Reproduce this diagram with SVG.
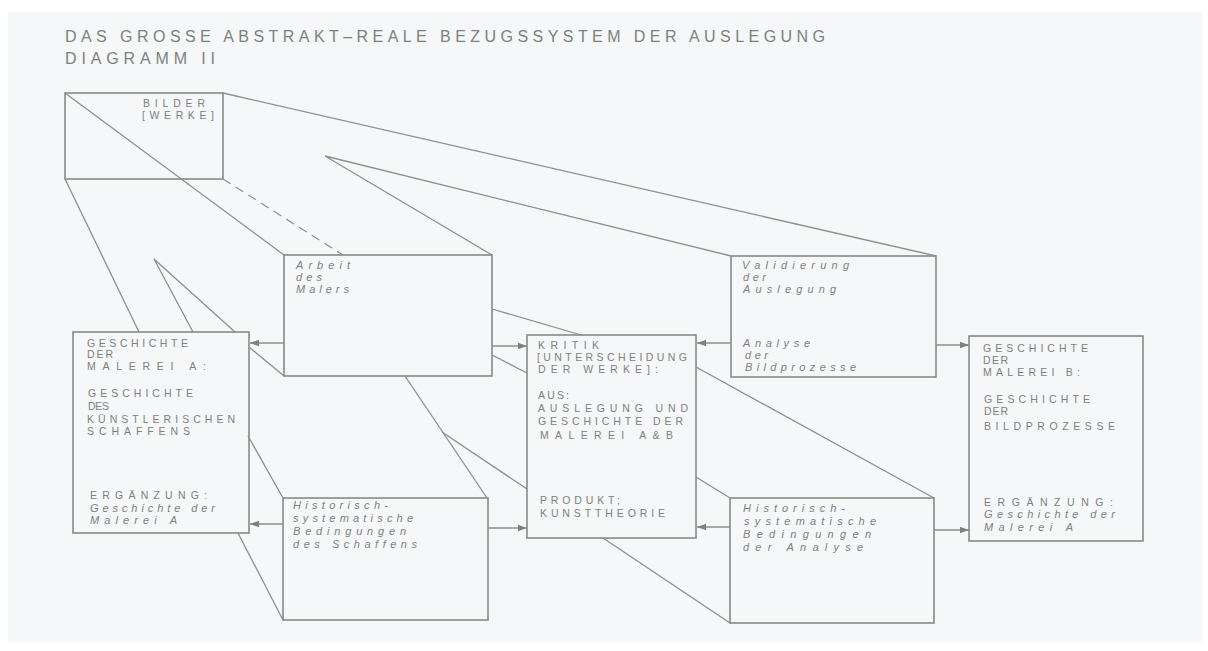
<svg xmlns="http://www.w3.org/2000/svg" width="1208" height="651" viewBox="0 0 1208 651">
<style>
.bx{fill:none;stroke:#858c85;stroke-width:1.6}
.ln{fill:none;stroke:#8a918a;stroke-width:1.3}
.ar{fill:none;stroke:#8a918a;stroke-width:1.3;marker-end:url(#ah)}
.dash{fill:none;stroke:#8a918a;stroke-width:1.2;stroke-dasharray:9 6}
.c{font-family:"Liberation Sans",Arial,sans-serif;font-size:10.5px;fill:#7b837b}
.l{font-family:"Liberation Sans",Arial,sans-serif;font-size:11px;font-style:italic;fill:#7b837b}
.t{font-family:"Liberation Sans",Arial,sans-serif;font-size:16px;fill:#7b837b}
</style>
<defs>
<marker id="ah" markerWidth="10" markerHeight="8" refX="9" refY="4" orient="auto" markerUnits="userSpaceOnUse">
<path d="M0,0.8 L9,4 L0,7.2 Z" fill="#7b837b"/>
</marker>
</defs>
<rect x="0" y="0" width="1208" height="651" fill="#ffffff"/>
<rect x="8" y="12" width="1194" height="630" fill="#f5f7f8"/>

<g id="title">
<text class="t" x="65" y="42" textLength="760" lengthAdjust="spacing">DAS GROSSE ABSTRAKT–REALE BEZUGSSYSTEM DER AUSLEGUNG</text>
<text class="t" x="65" y="64" textLength="150" lengthAdjust="spacing">DIAGRAMM II</text>
</g>

<g id="connectors">
<line class="ln" x1="65" y1="93" x2="284" y2="255"/>
<line class="ln" x1="223" y1="93" x2="936" y2="256"/>
<line class="dash" x1="223" y1="179" x2="343" y2="255"/>
<line class="ln" x1="65" y1="179" x2="139" y2="332"/>
<polyline class="ln" points="193,332 154,259 235,332"/>
<polyline class="ln" points="492,255 325,156 731,256"/>
<line class="ln" x1="492" y1="309" x2="581" y2="335"/>
<line class="ln" x1="492" y1="355" x2="527" y2="373"/>
<line class="ln" x1="249" y1="347" x2="284" y2="376"/>
<line class="ln" x1="248" y1="436" x2="283" y2="498"/>
<line class="ln" x1="238" y1="533" x2="283" y2="620"/>
<line class="ln" x1="405" y1="376" x2="487" y2="498"/>
<line class="ln" x1="442" y1="432" x2="527" y2="489"/>
<line class="ln" x1="696" y1="367" x2="934" y2="498"/>
<line class="ln" x1="696" y1="477" x2="730" y2="498"/>
<line class="ln" x1="603" y1="538" x2="730" y2="623"/>
<line class="ar" x1="284" y1="343" x2="250" y2="343"/>
<line class="ar" x1="492" y1="346" x2="527" y2="346"/>
<line class="ar" x1="731" y1="343" x2="697" y2="343"/>
<line class="ar" x1="936" y1="345" x2="969" y2="345"/>
<line class="ar" x1="283" y1="524" x2="250" y2="524"/>
<line class="ar" x1="488" y1="528" x2="527" y2="528"/>
<line class="ar" x1="730" y1="527" x2="697" y2="527"/>
<line class="ar" x1="934" y1="530" x2="969" y2="530"/>
</g>

<g id="bilder">
<rect class="bx" x="65" y="93" width="158" height="86"/>
<text class="c" x="143" y="107" textLength="62" lengthAdjust="spacing">BILDER</text>
<text class="c" x="142" y="119" textLength="72" lengthAdjust="spacing">[WERKE]</text>
</g>

<g id="arbeit">
<rect class="bx" x="284" y="255" width="208" height="121" fill="#f5f7f8"/>
<text class="l" x="296" y="269" textLength="54" lengthAdjust="spacing">Arbeit</text>
<text class="l" x="296" y="281" textLength="26" lengthAdjust="spacing">des</text>
<text class="l" x="296" y="293" textLength="53" lengthAdjust="spacing">Malers</text>
</g>

<g id="validierung">
<rect class="bx" x="731" y="256" width="205" height="121" fill="#f5f7f8"/>
<text class="l" x="742" y="269" textLength="107" lengthAdjust="spacing">Validierung</text>
<text class="l" x="743" y="281" textLength="23" lengthAdjust="spacing">der</text>
<text class="l" x="743" y="293" textLength="93" lengthAdjust="spacing">Auslegung</text>
<text class="l" x="743" y="347" textLength="67" lengthAdjust="spacing">Analyse</text>
<text class="l" x="745" y="359" textLength="23" lengthAdjust="spacing">der</text>
<text class="l" x="745" y="371" textLength="111" lengthAdjust="spacing">Bildprozesse</text>
</g>

<g id="geschichte-a">
<rect class="bx" x="73" y="332" width="176" height="201" fill="#f5f7f8"/>
<text class="c" x="87" y="347" textLength="101" lengthAdjust="spacing">GESCHICHTE</text>
<text class="c" x="87" y="358" textLength="26" lengthAdjust="spacing">DER</text>
<text class="c" x="87" y="370" textLength="119" lengthAdjust="spacing">MALEREI  A:</text>
<text class="c" x="88" y="397" textLength="105" lengthAdjust="spacing">GESCHICHTE</text>
<text class="c" x="88" y="410" textLength="21" lengthAdjust="spacing">DES</text>
<text class="c" x="87" y="423" textLength="148" lengthAdjust="spacing">KÜNSTLERISCHEN</text>
<text class="c" x="87" y="435" textLength="103" lengthAdjust="spacing">SCHAFFENS</text>
<text class="c" x="90" y="499" textLength="117" lengthAdjust="spacing">ERGÄNZUNG:</text>
<text class="l" x="90" y="512" textLength="125" lengthAdjust="spacing">Geschichte der</text>
<text class="l" x="90" y="524" textLength="87" lengthAdjust="spacing">Malerei A</text>
</g>

<g id="kritik">
<rect class="bx" x="527" y="335" width="169" height="203" fill="#f5f7f8"/>
<text class="c" x="538" y="349" textLength="61" lengthAdjust="spacing">KRITIK</text>
<text class="c" x="537" y="361" textLength="150" lengthAdjust="spacing">[UNTERSCHEIDUNG</text>
<text class="c" x="538" y="373" textLength="120" lengthAdjust="spacing">DER WERKE]:</text>
<text class="c" x="538" y="399" textLength="31" lengthAdjust="spacing">AUS:</text>
<text class="c" x="538" y="412" textLength="150" lengthAdjust="spacing">AUSLEGUNG UND</text>
<text class="c" x="538" y="425" textLength="145" lengthAdjust="spacing">GESCHICHTE DER</text>
<text class="c" x="540" y="439" textLength="133" lengthAdjust="spacing">MALEREI A&amp;B</text>
<text class="c" x="540" y="504" textLength="80" lengthAdjust="spacing">PRODUKT;</text>
<text class="c" x="540" y="517" textLength="125" lengthAdjust="spacing">KUNSTTHEORIE</text>
</g>

<g id="geschichte-b">
<rect class="bx" x="969" y="336" width="174" height="205" fill="#f5f7f8"/>
<text class="c" x="983" y="352" textLength="105" lengthAdjust="spacing">GESCHICHTE</text>
<text class="c" x="983" y="364" textLength="25" lengthAdjust="spacing">DER</text>
<text class="c" x="983" y="376" textLength="97" lengthAdjust="spacing">MALEREI   B:</text>
<text class="c" x="984" y="403" textLength="106" lengthAdjust="spacing">GESCHICHTE</text>
<text class="c" x="984" y="415" textLength="24" lengthAdjust="spacing">DER</text>
<text class="c" x="984" y="430" textLength="131" lengthAdjust="spacing">BILDPROZESSE</text>
<text class="c" x="984" y="506" textLength="129" lengthAdjust="spacing">ERGÄNZUNG:</text>
<text class="l" x="984" y="518" textLength="131" lengthAdjust="spacing">Geschichte der</text>
<text class="l" x="984" y="531" textLength="89" lengthAdjust="spacing">Malerei A</text>
</g>

<g id="hist-schaffens">
<rect class="bx" x="283" y="498" width="205" height="122" fill="#f5f7f8"/>
<text class="l" x="293" y="509" textLength="95" lengthAdjust="spacing">Historisch-</text>
<text class="l" x="293" y="522" textLength="120" lengthAdjust="spacing">systematische</text>
<text class="l" x="293" y="535" textLength="113" lengthAdjust="spacing">Bedingungen</text>
<text class="l" x="293" y="548" textLength="124" lengthAdjust="spacing">des Schaffens</text>
</g>

<g id="hist-analyse">
<rect class="bx" x="730" y="498" width="204" height="125" fill="#f5f7f8"/>
<text class="l" x="743" y="512" textLength="102" lengthAdjust="spacing">Historisch-</text>
<text class="l" x="744" y="525" textLength="132" lengthAdjust="spacing">systematische</text>
<text class="l" x="743" y="538" textLength="128" lengthAdjust="spacing">Bedingungen</text>
<text class="l" x="743" y="551" textLength="120" lengthAdjust="spacing">der Analyse</text>
</g>
</svg>
